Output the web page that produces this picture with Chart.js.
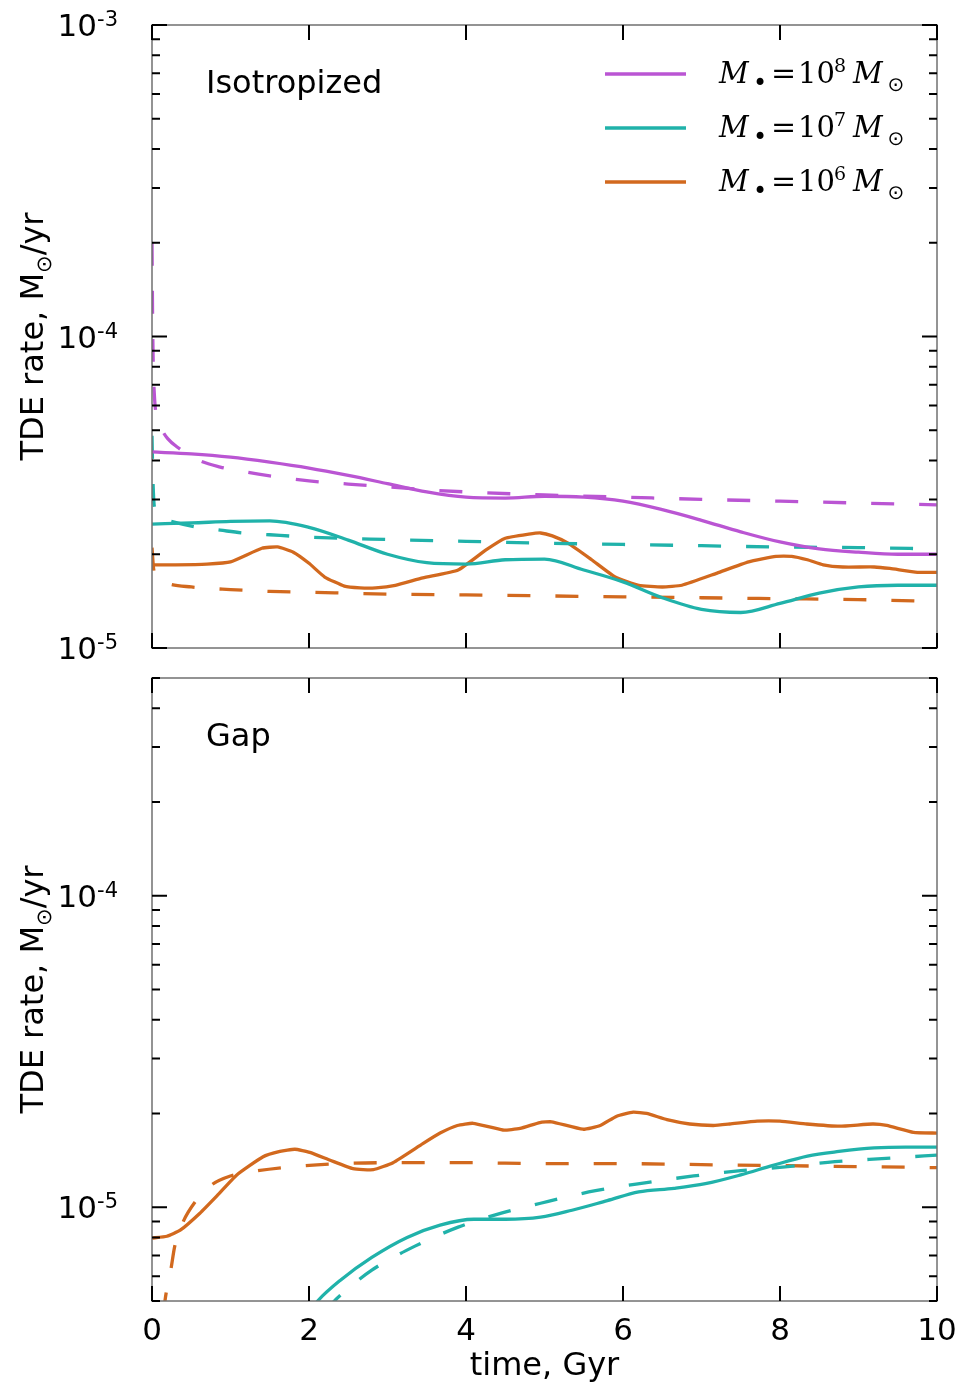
<!DOCTYPE html>
<html>
<head>
<meta charset="utf-8">
<script src="https://cdn.jsdelivr.net/npm/chart.js@4.4.1/dist/chart.umd.min.js"></script>
<style>
body{margin:0;background:#fff;}
#box{position:relative;width:961px;height:1386px;}
canvas{position:absolute;left:0;}
#topChart{top:0;}
#bottomChart{top:663px;}
</style>
</head>
<body>
<div id="box">
<canvas id="topChart" width="961" height="663"></canvas>
<canvas id="bottomChart" width="961" height="723"></canvas>
</div>
<script>
// ticks and labels
var xTickValues = [0, 2, 4, 6, 8, 10];
var topExponents = [-3, -4, -5];
var bottomExponents = [-4, -5];
var massExponents = ['8', '7', '6'];

// top panel (Isotropized), time in Gyr, rate in Msun/yr
var tIsoGrid = [0, 0.5, 1, 1.5, 2, 2.5, 3, 3.5, 4, 4.5, 5, 5.5, 6, 6.5, 7, 7.5, 8, 8.5, 9, 9.5, 10];
var isoM8Solid = [4.26e-5, 4.20e-5, 4.10e-5, 3.95e-5, 3.78e-5, 3.58e-5, 3.37e-5, 3.17e-5, 3.05e-5, 3.03e-5, 3.07e-5, 3.05e-5, 2.96e-5, 2.78e-5, 2.57e-5, 2.36e-5, 2.19e-5, 2.08e-5, 2.03e-5, 2.00e-5, 2.00e-5];
var isoM7Solid = [2.50e-5, 2.52e-5, 2.55e-5, 2.56e-5, 2.44e-5, 2.22e-5, 2.00e-5, 1.88e-5, 1.86e-5, 1.92e-5, 1.93e-5, 1.78e-5, 1.63e-5, 1.45e-5, 1.33e-5, 1.30e-5, 1.39e-5, 1.50e-5, 1.57e-5, 1.59e-5, 1.59e-5];

var tIsoM6Solid = [0, 0.3, 0.7, 1.0, 1.4, 1.6, 1.8, 2.0, 2.2, 2.45, 2.65, 2.85, 3.1, 3.45, 3.9, 4.25, 4.5, 4.8, 4.95, 5.1, 5.3, 5.6, 5.9, 6.2, 6.5, 6.75, 7.2, 7.6, 7.95, 8.15, 8.35, 8.55, 8.8, 9.2, 9.4, 9.75, 10];
var isoM6Solid = [1.85e-5, 1.85e-5, 1.86e-5, 1.89e-5, 2.09e-5, 2.11e-5, 2.03e-5, 1.87e-5, 1.69e-5, 1.58e-5, 1.56e-5, 1.56e-5, 1.59e-5, 1.68e-5, 1.78e-5, 2.06e-5, 2.25e-5, 2.32e-5, 2.34e-5, 2.29e-5, 2.17e-5, 1.92e-5, 1.69e-5, 1.59e-5, 1.57e-5, 1.59e-5, 1.74e-5, 1.89e-5, 1.97e-5, 1.97e-5, 1.92e-5, 1.85e-5, 1.82e-5, 1.82e-5, 1.80e-5, 1.75e-5, 1.75e-5];

var tIsoM8Dash = [0, 0.01, 0.03, 0.08, 0.13, 0.2, 0.32, 0.6, 0.87, 1.2, 1.5, 2, 2.5, 3, 3.5, 4, 5, 6, 7, 8, 9, 10];
var isoM8Dash = [2.0e-4, 1.0e-4, 6.5e-5, 5.4e-5, 5.0e-5, 4.7e-5, 4.42e-5, 4.0e-5, 3.81e-5, 3.67e-5, 3.57e-5, 3.44e-5, 3.36e-5, 3.29e-5, 3.22e-5, 3.17e-5, 3.10e-5, 3.05e-5, 3.00e-5, 2.96e-5, 2.92e-5, 2.88e-5];

var tIsoM7Dash = [0, 0.01, 0.03, 0.1, 0.27, 0.55, 0.87, 1.16, 1.5, 2, 3, 4, 5, 6, 7, 8, 9, 10];
var isoM7Dash = [4.8e-5, 3.6e-5, 2.84e-5, 2.62e-5, 2.54e-5, 2.45e-5, 2.39e-5, 2.34e-5, 2.31e-5, 2.27e-5, 2.23e-5, 2.20e-5, 2.17e-5, 2.15e-5, 2.13e-5, 2.11e-5, 2.10e-5, 2.08e-5];

var tIsoM6Dash = [0, 0.02, 0.06, 0.2, 0.5, 1, 1.5, 2, 3, 4, 5, 6, 7, 8, 9, 10];
var isoM6Dash = [2.1e-5, 1.8e-5, 1.68e-5, 1.61e-5, 1.57e-5, 1.54e-5, 1.52e-5, 1.51e-5, 1.49e-5, 1.48e-5, 1.47e-5, 1.46e-5, 1.45e-5, 1.44e-5, 1.43e-5, 1.41e-5];

// bottom panel (Gap)
var tGapM6Solid = [0, 0.19, 0.36, 0.61, 0.83, 1.08, 1.41, 1.63, 1.82, 2.01, 2.27, 2.56, 2.82, 3.07, 3.45, 3.67, 3.89, 4.09, 4.47, 4.69, 4.94, 5.09, 5.49, 5.71, 5.92, 6.13, 6.3, 6.56, 6.85, 7.15, 7.36, 7.71, 8.0, 8.34, 8.76, 9.18, 9.36, 9.7, 10];
var gapM6Solid = [7.96e-6, 8.07e-6, 8.44e-6, 9.57e-6, 1.09e-5, 1.27e-5, 1.45e-5, 1.51e-5, 1.535e-5, 1.50e-5, 1.415e-5, 1.33e-5, 1.32e-5, 1.39e-5, 1.60e-5, 1.73e-5, 1.83e-5, 1.86e-5, 1.77e-5, 1.79e-5, 1.87e-5, 1.88e-5, 1.78e-5, 1.83e-5, 1.96e-5, 2.02e-5, 2.00e-5, 1.91e-5, 1.85e-5, 1.83e-5, 1.85e-5, 1.89e-5, 1.89e-5, 1.85e-5, 1.82e-5, 1.85e-5, 1.83e-5, 1.74e-5, 1.73e-5];

var tGapM6Dash = [0.14, 0.18, 0.24, 0.29, 0.39, 0.55, 0.76, 1.0, 1.35, 1.8, 2.4, 3, 4, 5, 6, 7, 8, 9, 10];
var gapM6Dash = [4.5e-6, 5.3e-6, 6.3e-6, 7.5e-6, 8.9e-6, 1.04e-5, 1.18e-5, 1.26e-5, 1.31e-5, 1.35e-5, 1.38e-5, 1.39e-5, 1.39e-5, 1.38e-5, 1.38e-5, 1.37e-5, 1.36e-5, 1.35e-5, 1.34e-5];

var tGapM7Solid = [2.0, 2.11, 2.4, 2.8, 3.25, 3.67, 4.1, 4.5, 4.95, 5.35, 5.8, 6.2, 6.65, 7.05, 7.5, 7.9, 8.35, 8.75, 9.2, 9.6, 10];
var gapM7Solid = [4.6e-6, 5.0e-6, 5.83e-6, 6.9e-6, 8.0e-6, 8.76e-6, 9.15e-6, 9.15e-6, 9.29e-6, 9.78e-6, 1.05e-5, 1.12e-5, 1.15e-5, 1.19e-5, 1.27e-5, 1.36e-5, 1.46e-5, 1.51e-5, 1.55e-5, 1.56e-5, 1.56e-5];

var tGapM7Dash = [2.2, 2.31, 2.45, 2.8, 3.35, 3.9, 4.45, 4.95, 5.65, 6.3, 6.9, 7.5, 8.1, 8.7, 9.35, 10];
var gapM7Dash = [4.6e-6, 4.96e-6, 5.35e-6, 6.28e-6, 7.5e-6, 8.63e-6, 9.57e-6, 1.03e-5, 1.13e-5, 1.20e-5, 1.26e-5, 1.31e-5, 1.35e-5, 1.40e-5, 1.435e-5, 1.47e-5];

var purple = '#ba55d3';
var teal = '#20b2aa';
var orange = '#d2691e';
var sans = '"DejaVu Sans", sans-serif';
var serif = '"DejaVu Serif", serif';

function serie(tempi, valori, colore, tratteggio, liscia) {
    var punti = [];
    for (var i = 0; i < tempi.length; i++) {
        punti.push({x: tempi[i], y: valori[i]});
    }
    return {
        data: punti,
        borderColor: colore,
        borderWidth: 3.3,
        borderDash: tratteggio ? [23, 25] : [],
        pointRadius: 0,
        fill: false,
        clip: 0,
        cubicInterpolationMode: liscia ? 'monotone' : 'default',
        tension: liscia ? 0 : 0.15
    };
}

// frame, inward ticks, labels and legend drawn on top of the chart
var cornice = {
    id: 'cornice',
    afterDraw: function (chart, args, opz) {
        var ctx = chart.ctx;
        var a = chart.chartArea;
        var sx = chart.scales.x;
        var sy = chart.scales.y;
        ctx.save();

        ctx.strokeStyle = '#707070';
        ctx.lineWidth = 1.5;
        ctx.strokeRect(a.left, a.top, a.right - a.left, a.bottom - a.top);

        ctx.strokeStyle = '#000';
        ctx.lineWidth = 2;
        ctx.beginPath();
        for (var i = 0; i < xTickValues.length; i++) {
            var px = sx.getPixelForValue(xTickValues[i]);
            ctx.moveTo(px, a.bottom);
            ctx.lineTo(px, a.bottom - 15);
            ctx.moveTo(px, a.top);
            ctx.lineTo(px, a.top + 15);
        }
        for (var d = -6; d <= -3; d++) {
            for (var m = 1; m <= 9; m++) {
                var v = m * Math.pow(10, d);
                if (v < sy.min * 0.999 || v > sy.max * 1.001) continue;
                var py = sy.getPixelForValue(v);
                var len = (m == 1) ? 15 : 8;
                ctx.moveTo(a.left, py);
                ctx.lineTo(a.left + len, py);
                ctx.moveTo(a.right, py);
                ctx.lineTo(a.right - len, py);
            }
        }
        ctx.stroke();

        // y tick labels 10^n
        ctx.fillStyle = '#000';
        ctx.textAlign = 'left';
        ctx.textBaseline = 'alphabetic';
        for (var k = 0; k < opz.esponenti.length; k++) {
            var e = opz.esponenti[k];
            var y = sy.getPixelForValue(Math.pow(10, e));
            ctx.font = '21px ' + sans;
            var sup = String(e);
            var w2 = ctx.measureText(sup).width;
            ctx.font = '31px ' + sans;
            var w1 = ctx.measureText('10').width;
            var x0 = 118 - w2 - w1;
            ctx.fillText('10', x0, y + 11);
            ctx.font = '21px ' + sans;
            ctx.fillText(sup, x0 + w1, y + 1);
        }

        // panel name
        ctx.font = '32px ' + sans;
        ctx.fillText(opz.testo, 206, a.top + 68);

        // y title: TDE rate, M_sun/yr
        var cy = (a.top + a.bottom) / 2;
        ctx.save();
        ctx.translate(43, cy);
        ctx.rotate(-Math.PI / 2);
        ctx.font = '32px ' + sans;
        var p1 = 'TDE rate, M';
        var p3 = '/yr';
        var wp1 = ctx.measureText(p1).width;
        var wp3 = ctx.measureText(p3).width;
        ctx.font = '21px ' + sans;
        var wp2 = ctx.measureText('\u2299').width;
        var sx0 = -(wp1 + wp2 + wp3) / 2;
        ctx.font = '32px ' + sans;
        ctx.fillText(p1, sx0, 0);
        ctx.font = '21px ' + sans;
        ctx.fillText('\u2299', sx0 + wp1, 8);
        ctx.font = '32px ' + sans;
        ctx.fillText(p3, sx0 + wp1 + wp2, 0);
        ctx.restore();

        // x tick labels and title
        if (opz.asseX) {
            ctx.font = '31px ' + sans;
            ctx.textAlign = 'center';
            for (var j = 0; j < xTickValues.length; j++) {
                ctx.fillText(String(xTickValues[j]), sx.getPixelForValue(xTickValues[j]), a.bottom + 39);
            }
            ctx.font = '32px ' + sans;
            ctx.fillText('time, Gyr', (a.left + a.right) / 2, a.bottom + 74);
        }

        // legend
        if (opz.legenda) {
            var colori = [purple, teal, orange];
            for (var r = 0; r < massExponents.length; r++) {
                var ly = 74 + r * 54;
                ctx.strokeStyle = colori[r];
                ctx.lineWidth = 3.3;
                ctx.setLineDash([]);
                ctx.beginPath();
                ctx.moveTo(605, ly);
                ctx.lineTo(686, ly);
                ctx.stroke();
                ctx.fillStyle = '#000';
                ctx.textAlign = 'left';
                ctx.textBaseline = 'alphabetic';
                ctx.font = 'italic 29px ' + serif;
                ctx.fillText('M', 719, ly + 9);
                ctx.textAlign = 'center';
                ctx.textBaseline = 'middle';
                ctx.font = '24px ' + sans;
                ctx.fillText('\u2022', 760, ly + 11);
                ctx.textAlign = 'left';
                ctx.textBaseline = 'alphabetic';
                ctx.font = '30px ' + serif;
                ctx.fillText('=', 771, ly + 9);
                ctx.font = '29px ' + serif;
                ctx.fillText('10', 798, ly + 9);
                ctx.font = '19px ' + serif;
                ctx.fillText(massExponents[r], 834, ly - 2);
                ctx.font = 'italic 29px ' + serif;
                ctx.fillText('M', 853, ly + 9);
                ctx.textAlign = 'center';
                ctx.textBaseline = 'middle';
                ctx.font = '20px ' + sans;
                ctx.fillText('\u2299', 896, ly + 12);
            }
        }
        ctx.restore();
    }
};

function opzioni(ymin, ymax, pad, extra) {
    return {
        responsive: false,
        animation: false,
        layout: {padding: pad},
        scales: {
            x: {type: 'linear', min: 0, max: 10, display: false},
            y: {type: 'logarithmic', min: ymin, max: ymax, display: false}
        },
        plugins: {
            legend: {display: false},
            tooltip: {enabled: false},
            cornice: extra
        }
    };
}

new Chart(document.getElementById('topChart'), {
    type: 'line',
    data: {
        datasets: [
            serie(tIsoGrid, isoM8Solid, purple, false, true),
            serie(tIsoM8Dash, isoM8Dash, purple, true, true),
            serie(tIsoGrid, isoM7Solid, teal, false, true),
            serie(tIsoM7Dash, isoM7Dash, teal, true, true),
            serie(tIsoM6Solid, isoM6Solid, orange, false, false),
            serie(tIsoM6Dash, isoM6Dash, orange, true, true)
        ]
    },
    options: opzioni(1e-5, 1e-3, {left: 152, right: 24, top: 25, bottom: 15},
        {esponenti: topExponents, testo: 'Isotropized', asseX: false, legenda: true}),
    plugins: [cornice]
});

new Chart(document.getElementById('bottomChart'), {
    type: 'line',
    data: {
        datasets: [
            serie(tGapM7Solid, gapM7Solid, teal, false, true),
            serie(tGapM7Dash, gapM7Dash, teal, true, true),
            serie(tGapM6Solid, gapM6Solid, orange, false, false),
            serie(tGapM6Dash, gapM6Dash, orange, true, true)
        ]
    },
    options: opzioni(5e-6, 5e-4, {left: 152, right: 24, top: 15, bottom: 85},
        {esponenti: bottomExponents, testo: 'Gap', asseX: true, legenda: false}),
    plugins: [cornice]
});
</script>
</body>
</html>
